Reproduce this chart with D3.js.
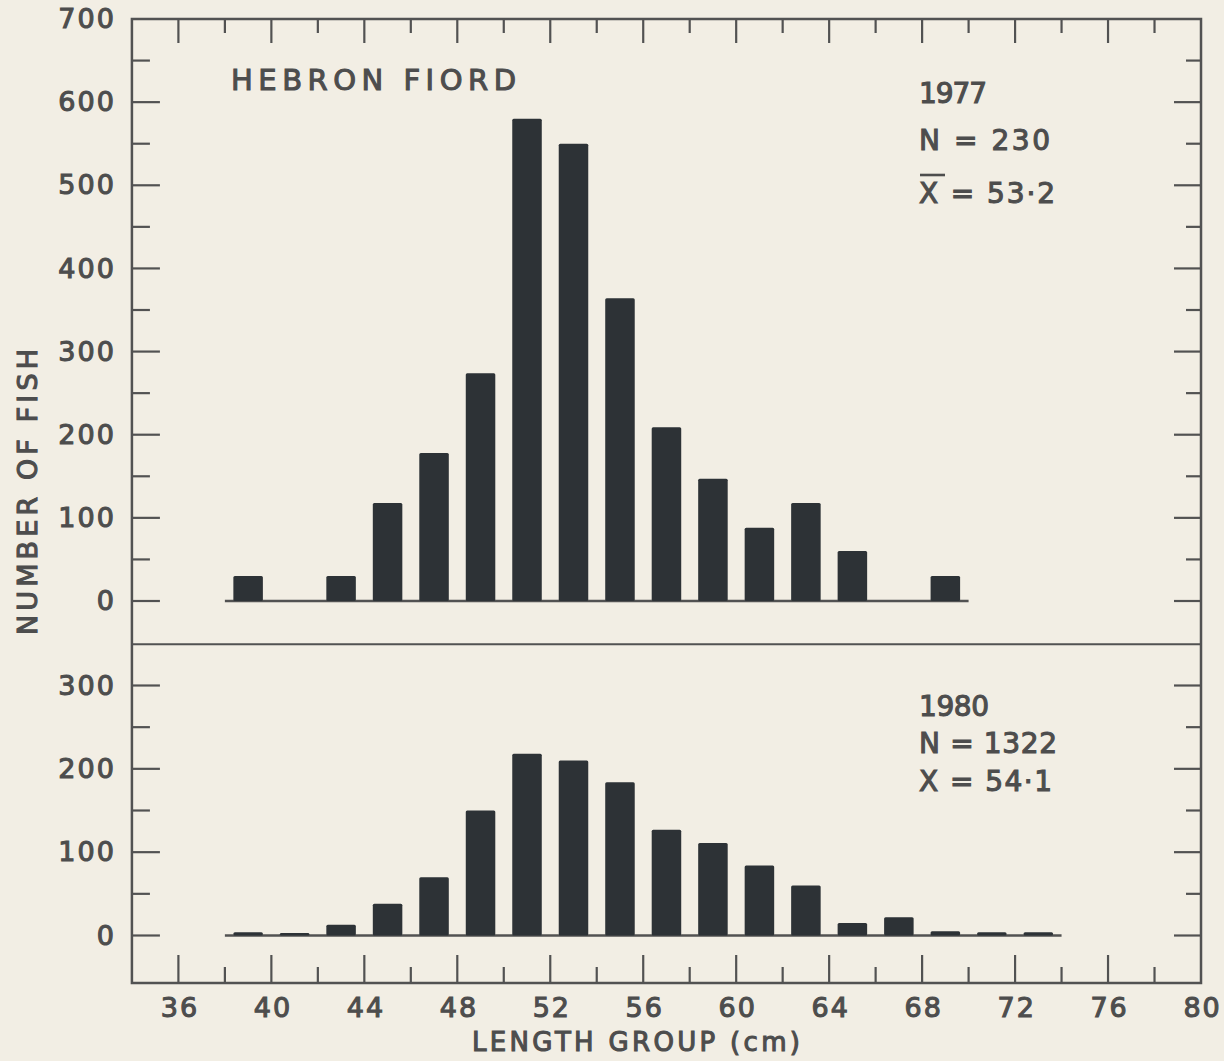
<!DOCTYPE html>
<html>
<head>
<meta charset="utf-8">
<script src="https://cdn.jsdelivr.net/npm/d3@7"></script>
<style>
  html, body { margin: 0; padding: 0; background: #f2eee4; }
  svg { display: block; }
  text { font-family: "DejaVu Sans", sans-serif; fill: #4d4d4d; stroke: #4d4d4d; stroke-width: 1.1px; }
</style>
</head>
<body>
<svg id="chart" width="1224" height="1061"></svg>
<script>
// Length-frequency of fish, Hebron Fiord: 2-cm length groups (group mid-points, cm)
const lengthGroups1977 = [39, 43, 45, 47, 49, 51, 53, 55, 57, 59, 61, 63, 65, 69];
const fish1977 = [30, 30, 118, 178, 274, 580, 550, 364, 209, 147, 88, 118, 60, 30];

const lengthGroups1980 = [39, 41, 43, 45, 47, 49, 51, 53, 55, 57, 59, 61, 63, 65, 67, 69, 71, 73];
const fish1980 = [4, 3, 13, 38, 70, 150, 218, 210, 184, 127, 111, 84, 60, 15, 22, 5, 4, 4];

const xTickLabels = [36, 40, 44, 48, 52, 56, 60, 64, 68, 72, 76, 80];
const yTickLabels1977 = [0, 100, 200, 300, 400, 500, 600, 700];
const yTickLabels1980 = [0, 100, 200, 300];

const notes1977 = ["1977", "N = 230", "X = 53·2"];
const notes1980 = ["1980", "N = 1322", "X = 54·1"];

const svg = d3.select("#chart");
const ink = "#525252";
const barInk = "#2d3236";

// scales
const x = d3.scaleLinear().domain([36, 80]).range([178.4, 1201]);
const yTop = d3.scaleLinear().domain([0, 700]).range([601, 19]);
const yBot = d3.scaleLinear().domain([0, 300]).range([935.5, 685.5]);

const frameL = x(34), frameR = x(80);
const frameT = yTop(700), frameB = yBot(-57);
const divider = yTop(-52);
const barW = x(37.27) - x(36);

// outer frame and panel divider
svg.append("rect")
  .attr("x", frameL).attr("y", frameT)
  .attr("width", frameR - frameL).attr("height", frameB - frameT)
  .attr("fill", "none").attr("stroke", ink).attr("stroke-width", 2.5);
svg.append("line")
  .attr("x1", frameL).attr("x2", frameR).attr("y1", divider).attr("y2", divider)
  .attr("stroke", ink).attr("stroke-width", 2.2);

// x ticks on top and bottom edges (every 2 cm, long every 4 cm)
const xTickAll = d3.range(36, 80, 2);
svg.append("g").selectAll("line").data(xTickAll).join("line")
  .attr("x1", d => x(d)).attr("x2", d => x(d))
  .attr("y1", frameT).attr("y2", d => frameT + (d % 4 === 0 ? 24 : 14))
  .attr("stroke", ink).attr("stroke-width", 2.2);
svg.append("g").selectAll("line").data(xTickAll).join("line")
  .attr("x1", d => x(d)).attr("x2", d => x(d))
  .attr("y1", frameB).attr("y2", d => frameB - (d % 4 === 0 ? 28 : 16))
  .attr("stroke", ink).attr("stroke-width", 2.2);

// y ticks on left and right edges (every 50, long every 100)
function yTicks(scale, max) {
  const vals = d3.range(0, max, 50);
  const g = svg.append("g");
  g.selectAll("line.l").data(vals).join("line").attr("class", "l")
    .attr("x1", frameL).attr("x2", d => frameL + (d % 100 === 0 ? 28 : 18))
    .attr("y1", d => scale(d)).attr("y2", d => scale(d))
    .attr("stroke", ink).attr("stroke-width", 2.2);
  g.selectAll("line.r").data(vals).join("line").attr("class", "r")
    .attr("x1", frameR).attr("x2", d => frameR - (d % 100 === 0 ? 27 : 15))
    .attr("y1", d => scale(d)).attr("y2", d => scale(d))
    .attr("stroke", ink).attr("stroke-width", 2.2);
}
yTicks(yTop, 700);
yTicks(yBot, 350);

// tick labels through d3 axes
function styleAxis(g) {
  g.select(".domain").remove();
  g.selectAll(".tick line").remove();
  g.selectAll("text").style("font-size", "27px").attr("fill", "#4d4d4d")
    .style("letter-spacing", "2px").style("font-family", "'DejaVu Sans', sans-serif");
}
svg.append("g").attr("transform", `translate(${frameL - 16},0)`)
  .call(d3.axisLeft(yTop).tickValues(yTickLabels1977).tickSize(0).tickPadding(0).tickFormat(d3.format("d")))
  .call(styleAxis);
svg.append("g").attr("transform", `translate(${frameL - 16},0)`)
  .call(d3.axisLeft(yBot).tickValues(yTickLabels1980).tickSize(0).tickPadding(0).tickFormat(d3.format("d")))
  .call(styleAxis);
svg.append("g").attr("transform", `translate(0,${frameB + 8})`)
  .call(d3.axisBottom(x).tickValues(xTickLabels).tickSize(0).tickPadding(0).tickFormat(d3.format("d")))
  .call(styleAxis)
  .selectAll("text").attr("dy", "0.95em").attr("dx", "0.04em");

// baselines under each histogram
svg.append("line")
  .attr("x1", x(38)).attr("x2", x(70)).attr("y1", yTop(0)).attr("y2", yTop(0))
  .attr("stroke", ink).attr("stroke-width", 2.4);
svg.append("line")
  .attr("x1", x(38)).attr("x2", x(74)).attr("y1", yBot(0)).attr("y2", yBot(0))
  .attr("stroke", ink).attr("stroke-width", 2.4);

// bars
function bars(groups, values, yScale) {
  const data = groups.map((g, i) => ({ g, v: values[i] }));
  svg.append("g").selectAll("rect").data(data).join("rect")
    .attr("x", d => x(d.g) - barW / 2)
    .attr("width", barW)
    .attr("y", d => yScale(d.v))
    .attr("height", d => yScale(0) - yScale(d.v))
    .attr("rx", 1.5)
    .attr("fill", barInk);
}
bars(lengthGroups1977, fish1977, yTop);
bars(lengthGroups1980, fish1980, yBot);

// panel annotations
svg.append("text").attr("x", 231).attr("y", 90)
  .attr("textLength", 285).attr("lengthAdjust", "spacing")
  .style("font-size", "29px").text("HEBRON FIORD");

function notes(lines, ys, widths, bar) {
  lines.forEach((t, i) => {
    svg.append("text").attr("x", 919).attr("y", ys[i])
      .attr("textLength", widths[i]).attr("lengthAdjust", "spacing")
      .style("font-size", "28px").text(t);
  });
  if (bar) {
    svg.append("line").attr("x1", 920).attr("x2", 945)
      .attr("y1", ys[2] - 28).attr("y2", ys[2] - 28)
      .attr("stroke", "#4d4d4d").attr("stroke-width", 2.6);
  }
}
notes(notes1977, [103, 150, 203], [68, 131, 136], true);
notes(notes1980, [716, 753, 791], [70, 138, 133], false);

// axis titles
svg.append("text").attr("x", 636).attr("y", 1051).attr("text-anchor", "middle")
  .attr("textLength", 328).attr("lengthAdjust", "spacing")
  .style("font-size", "26px").text("LENGTH GROUP (cm)");
svg.append("text")
  .attr("transform", "translate(37,492) rotate(-90)")
  .attr("text-anchor", "middle")
  .attr("textLength", 286).attr("lengthAdjust", "spacing")
  .style("font-size", "27px").text("NUMBER OF FISH");
</script>
</body>
</html>
